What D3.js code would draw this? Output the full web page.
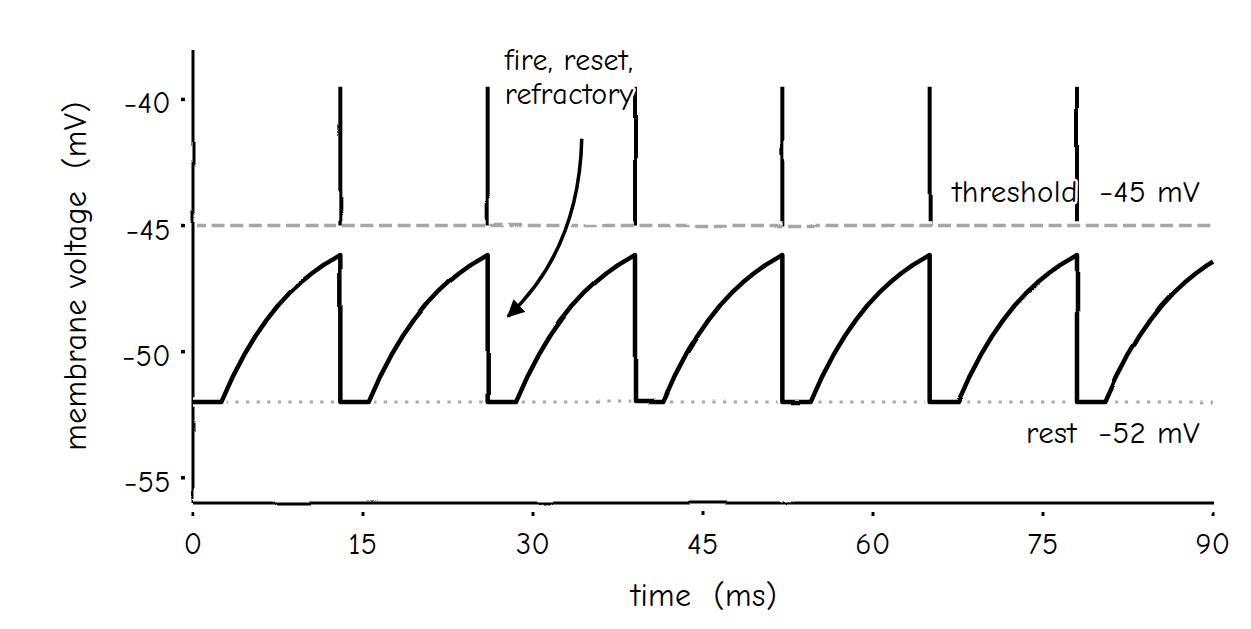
<!DOCTYPE html>
<html><head><meta charset="utf-8">
<script src="https://cdn.jsdelivr.net/npm/d3@7"></script>
<style>
body{margin:0;background:#fff}
text{font-family:'Humor Sans','Comic Neue',Lato,sans-serif;white-space:pre;fill:#000}
</style>
</head><body>
<svg id="c" width="1251" height="629"></svg>
<script>
// ---- data ----
const time = [
  0,2.5,3.5,4.5,5.5,6.5,7.5,8.5,9.5,10.5,11.5,12.5,13,
  13,15.5,16.5,17.5,18.5,19.5,20.5,21.5,22.5,23.5,24.5,25.5,26,
  26,28.5,29.5,30.5,31.5,32.5,33.5,34.5,35.5,36.5,37.5,38.5,39,
  39,41.5,42.5,43.5,44.5,45.5,46.5,47.5,48.5,49.5,50.5,51.5,52,
  52,54.5,55.5,56.5,57.5,58.5,59.5,60.5,61.5,62.5,63.5,64.5,65,
  65,67.5,68.5,69.5,70.5,71.5,72.5,73.5,74.5,75.5,76.5,77.5,78,
  78,80.5,81.5,82.5,83.5,84.5,85.5,86.5,87.5,88.5,89.5,90
];
const voltage = [
  -52,-52,-51.00,-50.14,-49.39,-48.74,-48.17,-47.68,-47.26,-46.89,-46.57,-46.30,-46.17,
  -52,-52,-51.00,-50.14,-49.39,-48.74,-48.17,-47.68,-47.26,-46.89,-46.57,-46.30,-46.17,
  -52,-52,-51.00,-50.14,-49.39,-48.74,-48.17,-47.68,-47.26,-46.89,-46.57,-46.30,-46.17,
  -52,-52,-51.00,-50.14,-49.39,-48.74,-48.17,-47.68,-47.26,-46.89,-46.57,-46.30,-46.17,
  -52,-52,-51.00,-50.14,-49.39,-48.74,-48.17,-47.68,-47.26,-46.89,-46.57,-46.30,-46.17,
  -52,-52,-51.00,-50.14,-49.39,-48.74,-48.17,-47.68,-47.26,-46.89,-46.57,-46.30,-46.17,
  -52,-52,-51.00,-50.14,-49.39,-48.74,-48.17,-47.68,-47.26,-46.89,-46.57,-46.43
];
const spikeTimes = [13, 26, 39, 52, 65, 78];
const spikePeak = -39.5;
const threshold = -45;
const rest = -52;
const xTicks = [0, 15, 30, 45, 60, 75, 90];
const yTicks = [-55, -50, -45, -40];
const xDomain = [0, 90];
const yDomain = [-56, -38];
const annotationLines = ["fire, reset,", "refractory"];
const annotationAt = [27.5, -38.85];
const arrowFrom = [34.3, -41.6];
const arrowCtrl = [34.05, -45.95];
const arrowTo = [27.8, -48.6];
const thresholdLabel = "threshold  \u221245 mV";
const restLabel = "rest  \u221252 mV";
const xLabel = "time  (ms)";
const yLabel = "membrane voltage  (mV)";

// ---- drawing ----
const svg = d3.select("#c");
const x = d3.scaleLinear().domain(xDomain).range([193, 1213]);
const y = d3.scaleLinear().domain(yDomain).range([503, 49]);

const defs = svg.append("defs");
const f = defs.append("filter").attr("id","wob").attr("filterUnits","userSpaceOnUse")
  .attr("x",0).attr("y",0).attr("width",1251).attr("height",629);
f.append("feTurbulence").attr("type","fractalNoise").attr("baseFrequency","0.012")
  .attr("numOctaves",1).attr("seed",3).attr("result","n");
f.append("feDisplacementMap").attr("in","SourceGraphic").attr("in2","n")
  .attr("scale",3.2).attr("xChannelSelector","R").attr("yChannelSelector","G");

defs.append("marker").attr("id","ah").attr("viewBox","0 0 10 10")
  .attr("refX",9).attr("refY",5).attr("markerWidth",5).attr("markerHeight",5)
  .attr("markerUnits","strokeWidth").attr("orient","auto")
  .append("path").attr("d","M0,0 L10,5 L0,10 Z").attr("fill","#000");

const g = svg.append("g").attr("filter","url(#wob)");
const line = d3.line().x(d => x(d[0])).y(d => y(d[1]));

function halo(d, w, color, dash) {
  const hp = g.append("path").attr("d", d).attr("fill","none").attr("stroke","#fff")
    .attr("stroke-width", w + 5).attr("stroke-linejoin","round");
  if (dash) hp.attr("stroke-dasharray", dash);
  const p = g.append("path").attr("d", d).attr("fill","none").attr("stroke", color)
    .attr("stroke-width", w).attr("stroke-linejoin","round");
  if (dash) p.attr("stroke-dasharray", dash);
  return p;
}

// spikes
spikeTimes.forEach(t => halo(line([[t, threshold], [t, spikePeak]]), 4, "#000"));
// threshold & rest
halo(line([[xDomain[0], threshold], [xDomain[1], threshold]]), 3.5, "#a6a6a6", "13,5.6");
halo(line([[xDomain[0], rest], [xDomain[1], rest]]), 3, "#aaaaaa", "3.3,7.3");

// axes
halo(line([[xDomain[0], yDomain[0]], [xDomain[0], yDomain[1]]]), 3, "#000");
halo(line([[xDomain[0], yDomain[0]], [xDomain[1], yDomain[0]]]), 3, "#000");
xTicks.forEach(t => g.append("line").attr("x1", x(t)).attr("x2", x(t))
  .attr("y1", y(yDomain[0]) + 9).attr("y2", y(yDomain[0]) + 13)
  .attr("stroke","#000").attr("stroke-width",3));
yTicks.forEach(v => g.append("line").attr("x1", x(xDomain[0]) - 12).attr("x2", x(xDomain[0]) - 8)
  .attr("y1", y(v)).attr("y2", y(v)).attr("stroke","#000").attr("stroke-width",3.5));

// trace
halo(line(time.map((t, i) => [t, voltage[i]])), 4.5, "#000");

// arrow
const ap = d3.path();
ap.moveTo(x(arrowFrom[0]), y(arrowFrom[1]));
ap.quadraticCurveTo(x(arrowCtrl[0]), y(arrowCtrl[1]), x(arrowTo[0]), y(arrowTo[1]));
halo(ap.toString(), 3.5, "#000").attr("marker-end","url(#ah)");

// text
const T = svg.append("g");
function txt(s, px, py, anchor, size) {
  return T.append("text").attr("x", px).attr("y", py).attr("text-anchor", anchor)
    .attr("font-size", size).attr("letter-spacing", 0.4).attr("stroke","#fff").attr("stroke-width",5)
    .attr("paint-order","stroke").attr("stroke-linejoin","round").text(s);
}
xTicks.forEach(t => txt(String(t), x(t), 554, "middle", 30));
yTicks.forEach(v => txt(String(v).replace("-", "\u2212"), 171, y(v) + 14, "end", 30));
annotationLines.forEach((s, i) => txt(s, x(annotationAt[0]), y(annotationAt[1]) + i * 34, "start", 30));
txt(thresholdLabel, 1200, y(threshold) - 24, "end", 31);
txt(restLabel, 1200, y(rest) + 41, "end", 31);
txt(xLabel, 704, 606, "middle", 32);
txt(yLabel, 0, 0, "middle", 32).attr("transform", "translate(86,276) rotate(-90)");
</script>
</body></html>
